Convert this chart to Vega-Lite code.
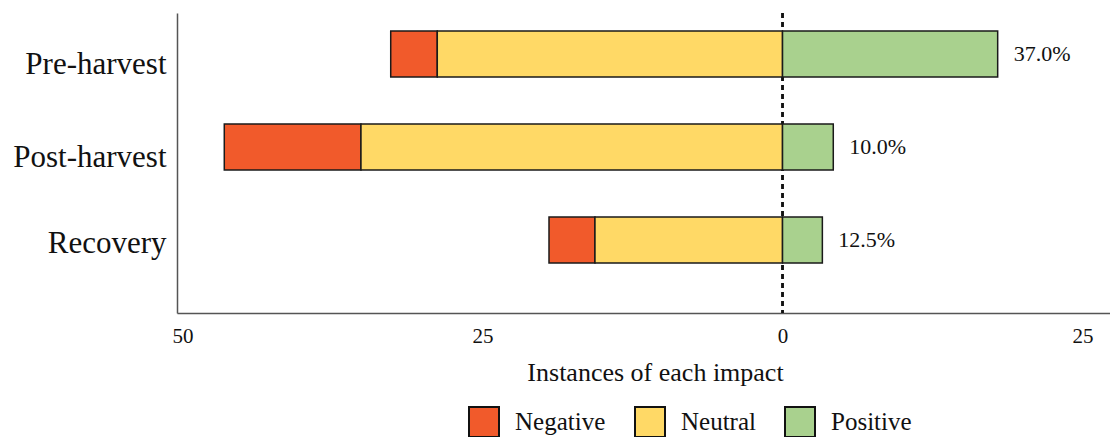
{
  "$schema": "https://vega.github.io/schema/vega-lite/v6.json",
  "autosize": {"type": "none"},
  "width": 933,
  "height": 300,
  "padding": {"left": 177, "top": 13, "right": 0, "bottom": 124},
  "background": "white",
  "config": {
    "font": "Liberation Serif",
    "view": {"stroke": null},
    "axis": {"grid": false, "ticks": false, "domainColor": "#555555", "domainWidth": 1.5, "labelColor": "#111111", "titleColor": "#111111", "titleFontWeight": "normal"}
  },
  "datasets": {
    "impacts": [
      {"stage": "Pre-harvest", "impact": "Negative", "value": -3.88},
      {"stage": "Pre-harvest", "impact": "Neutral", "value": -28.77},
      {"stage": "Pre-harvest", "impact": "Positive", "value": 17.93},
      {"stage": "Post-harvest", "impact": "Negative", "value": -11.39},
      {"stage": "Post-harvest", "impact": "Neutral", "value": -35.13},
      {"stage": "Post-harvest", "impact": "Positive", "value": 4.23},
      {"stage": "Recovery", "impact": "Negative", "value": -3.83},
      {"stage": "Recovery", "impact": "Neutral", "value": -15.63},
      {"stage": "Recovery", "impact": "Positive", "value": 3.32}
    ],
    "labels": [
      {"stage": "Pre-harvest", "value": 17.93, "label": "37.0%"},
      {"stage": "Post-harvest", "value": 4.23, "label": "10.0%"},
      {"stage": "Recovery", "value": 3.32, "label": "12.5%"}
    ]
  },
  "layer": [
    {
      "data": {"name": "impacts"},
      "mark": {"type": "rule", "color": "#111111", "strokeWidth": 1.5, "strokeDash": [5, 4]},
      "encoding": {"x": {"datum": 0, "type": "quantitative"}}
    },
    {
      "data": {"name": "impacts"},
      "mark": {"type": "bar", "stroke": "#1a1a1a", "strokeWidth": 1.5},
      "encoding": {
        "y": {
          "field": "stage", "type": "nominal",
          "sort": ["Pre-harvest", "Post-harvest", "Recovery"],
          "scale": {"paddingInner": 0.505, "paddingOuter": 0.3655, "align": 0.265},
          "axis": {
            "title": null, "labelFontSize": 31, "labelPadding": 11,
            "labelOffset": {"condition": {"test": "datum.value === 'Recovery'", "value": 4}, "value": 11}
          }
        },
        "x": {
          "field": "value", "type": "quantitative", "stack": "zero",
          "scale": {"domain": [-50.46, 27.29], "nice": false, "zero": false},
          "axis": {
            "values": [-50, -25, 0, 25],
            "labelExpr": "format(abs(datum.value), 'd')",
            "labelFontSize": 21, "labelPadding": 12,
            "title": "Instances of each impact", "titleFontSize": 26, "titlePadding": 13,
            "titleX": 478
          }
        },
        "color": {
          "field": "impact", "type": "nominal",
          "scale": {"domain": ["Negative", "Neutral", "Positive"], "range": ["#F15A2B", "#FFD966", "#A9D18E"]},
          "legend": {
            "title": null, "orient": "none", "legendX": 291, "legendY": 393,
            "direction": "horizontal", "padding": 0,
            "symbolType": "square", "symbolSize": 900, "symbolStrokeColor": "#111111", "symbolStrokeWidth": 2, "symbolOpacity": 1,
            "labelFontSize": 25, "labelColor": "#111111", "labelOffset": 15, "columnPadding": 25
          }
        },
        "order": {"field": "impact", "sort": "descending"}
      }
    },
    {
      "data": {"name": "labels"},
      "mark": {"type": "text", "align": "left", "baseline": "middle", "dx": 16, "fontSize": 22, "color": "#111111"},
      "encoding": {
        "y": {"field": "stage", "type": "nominal", "sort": ["Pre-harvest", "Post-harvest", "Recovery"]},
        "x": {"field": "value", "type": "quantitative", "stack": null},
        "text": {"field": "label"}
      }
    }
  ]
}
